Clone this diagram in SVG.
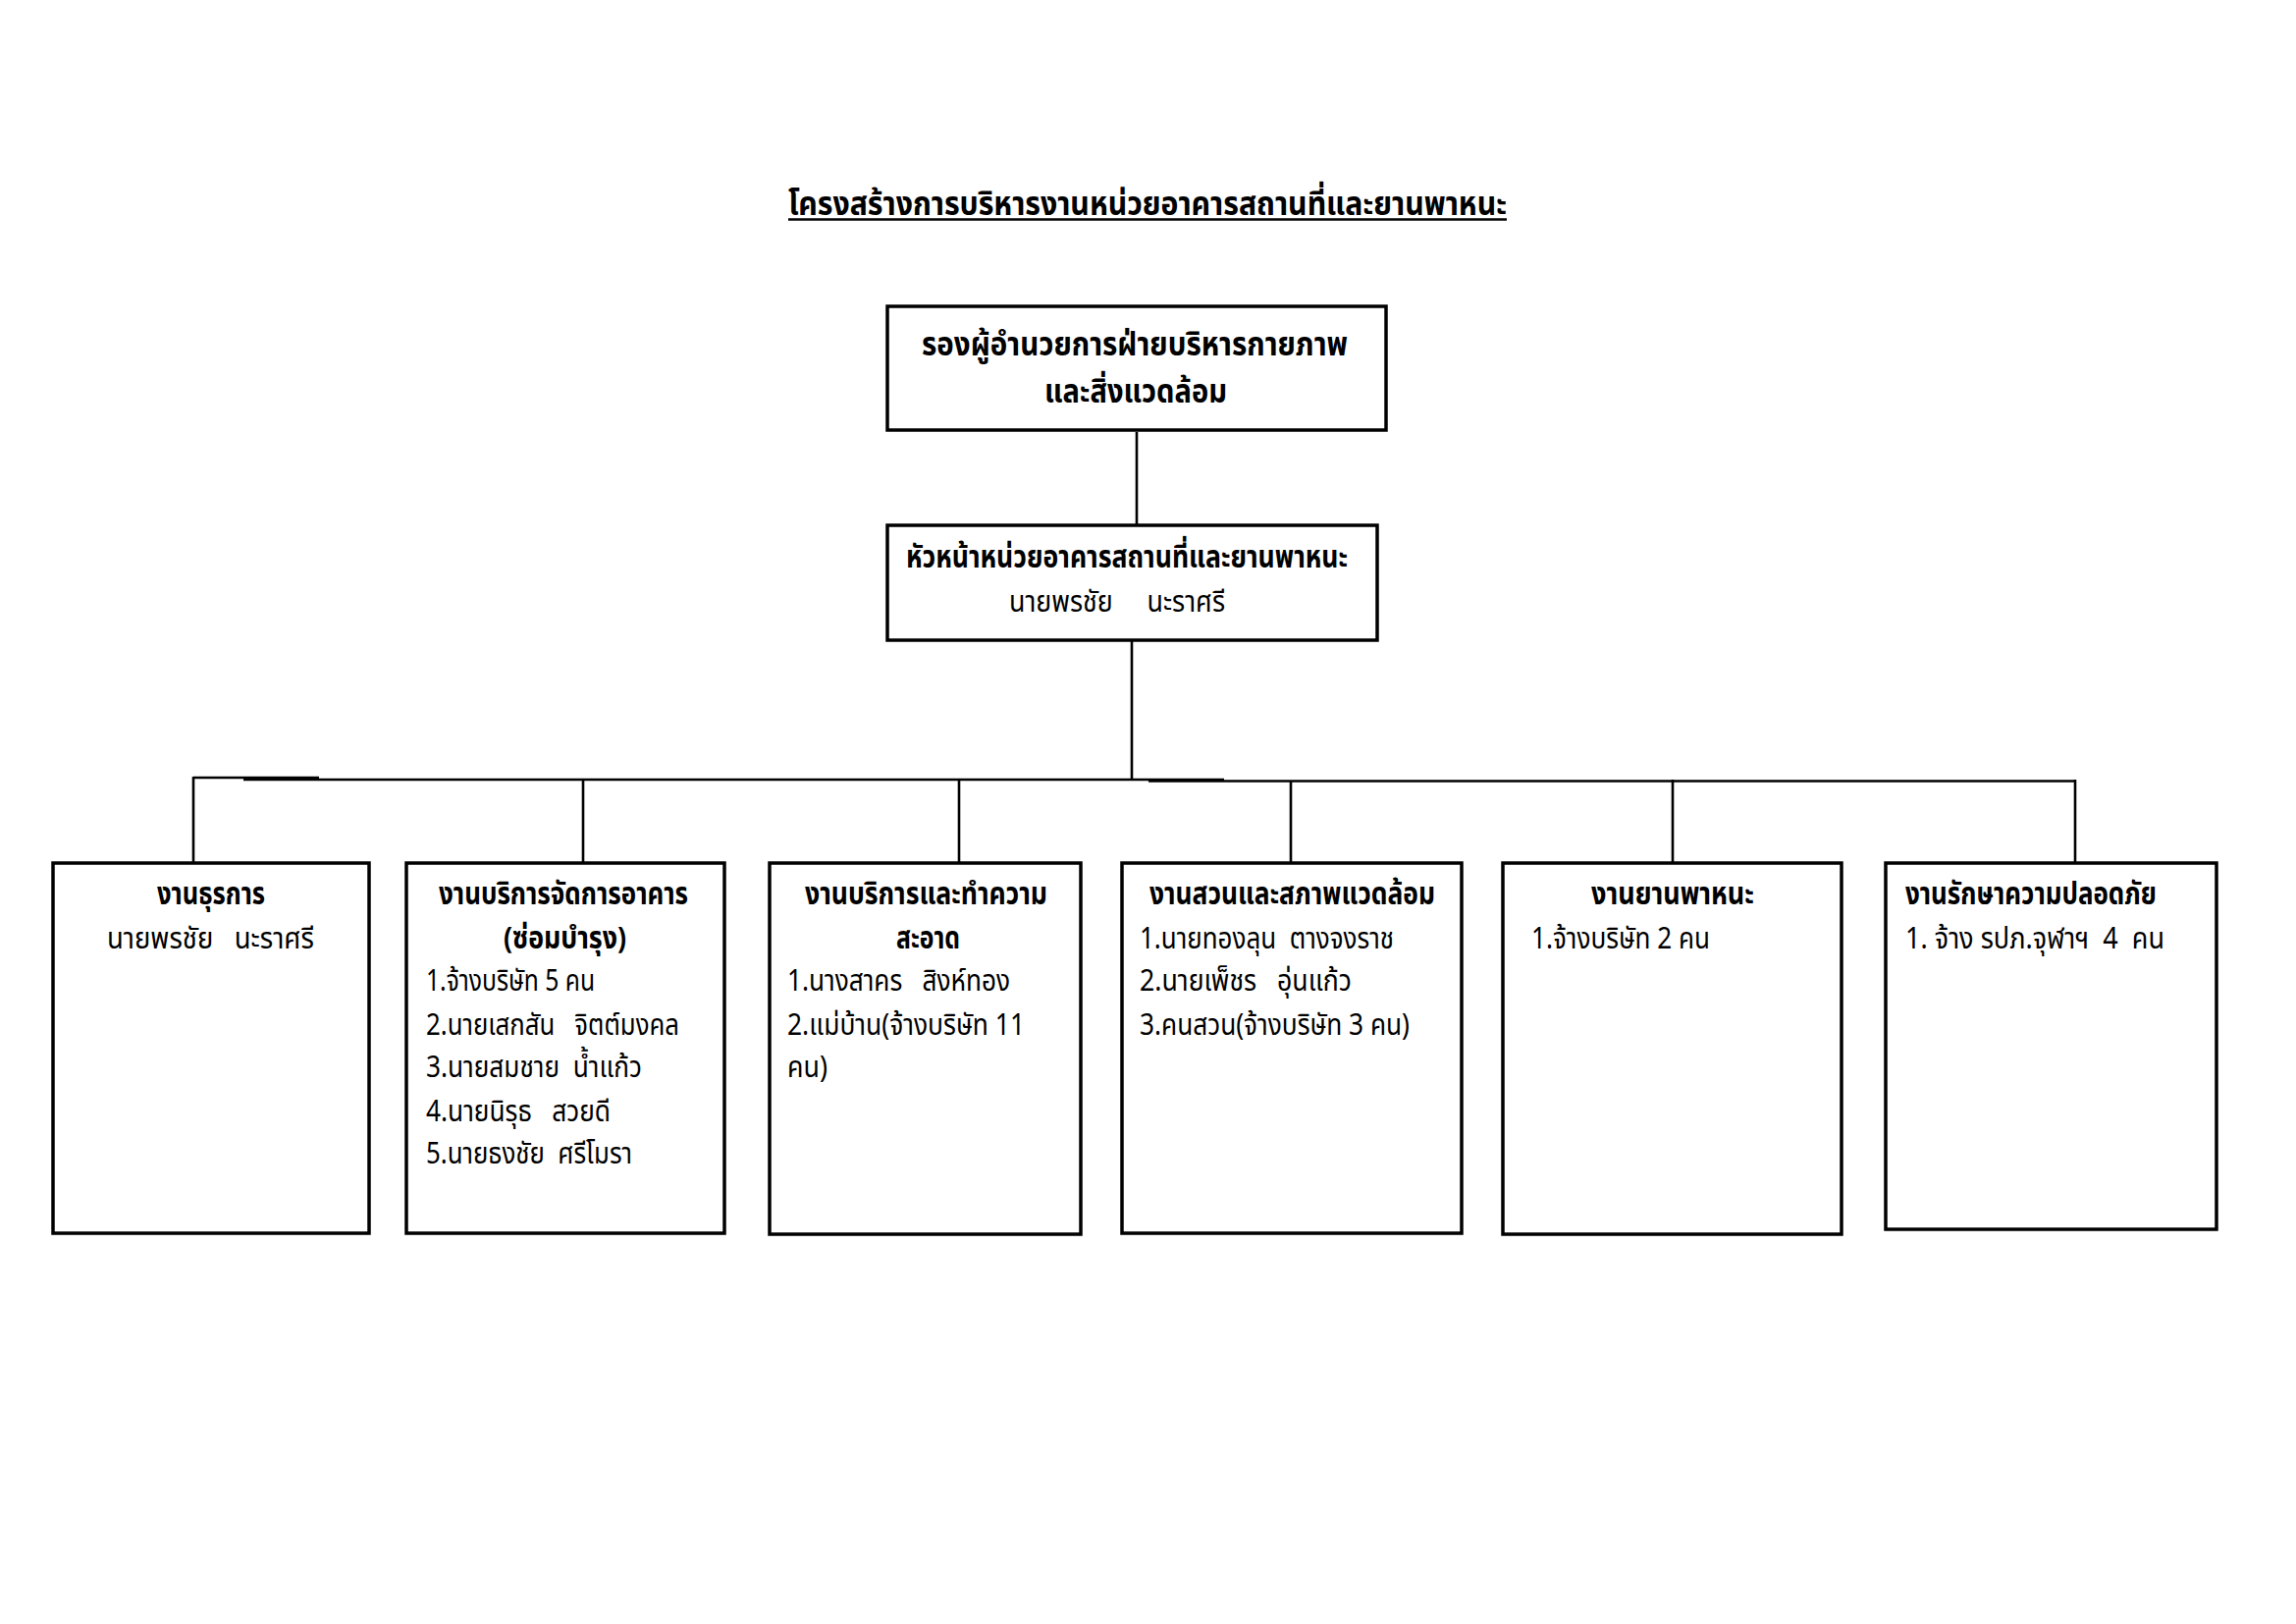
<svg xmlns="http://www.w3.org/2000/svg" width="2339" height="1654" viewBox="0 0 2339 1654">
<style>
.bg{fill:#fff}
.box{fill:#fff;stroke:#000;stroke-width:3.5}
.con{stroke:#000;stroke-width:2.6;fill:none}
text{font-family:"Noto Sans Thai","Noto Sans",sans-serif;fill:#000;white-space:pre}
.b{font-weight:bold;font-size:31px}
.r{font-weight:normal;font-size:31px}
.t{font-weight:bold;font-size:33px}
.h{font-weight:bold;font-size:33px}
</style>
<rect class="bg" x="0" y="0" width="2339" height="1654"/>
<g id="title">
<text class="t" x="803" y="219" textLength="732" lengthAdjust="spacingAndGlyphs">โครงสร้างการบริหารงานหน่วยอาคารสถานที่และยานพาหนะ</text>
<line x1="803" y1="223.5" x2="1535" y2="223.5" stroke="#000" stroke-width="2.5"/>
</g>
<g id="connectors">
<line class="con" x1="1158" y1="440" x2="1158" y2="534"/>
<line class="con" x1="1153" y1="653" x2="1153" y2="794"/>
<line class="con" x1="197" y1="792" x2="325" y2="792"/>
<line class="con" x1="248" y1="794" x2="1247" y2="794"/>
<line class="con" x1="1170" y1="795.5" x2="2114" y2="795.5"/>
<line class="con" x1="197" y1="791" x2="197" y2="878"/>
<line class="con" x1="594" y1="794" x2="594" y2="878"/>
<line class="con" x1="977" y1="794" x2="977" y2="878"/>
<line class="con" x1="1315" y1="795" x2="1315" y2="881"/>
<line class="con" x1="1704" y1="794" x2="1704" y2="878"/>
<line class="con" x1="2114" y1="794" x2="2114" y2="878"/>
</g>
<g id="n_deputy">
<rect class="box" x="904" y="312" width="508" height="126"/>
<text class="h" x="939" y="362" textLength="434" lengthAdjust="spacingAndGlyphs">รองผู้อำนวยการฝ่ายบริหารกายภาพ</text>
<text class="h" x="1064" y="410" textLength="186" lengthAdjust="spacingAndGlyphs">และสิ่งแวดล้อม</text>
</g>
<g id="n_head">
<rect class="box" x="904" y="535" width="499" height="117"/>
<text class="b" x="923" y="578" textLength="450" lengthAdjust="spacingAndGlyphs">หัวหน้าหน่วยอาคารสถานที่และยานพาหนะ</text>
<text class="r" x="1028" y="623" textLength="220" lengthAdjust="spacingAndGlyphs">นายพรชัย     นะราศรี</text>
</g>
<g id="n_admin">
<rect class="box" x="54" y="879" width="322" height="377"/>
<text class="b" x="160" y="921" textLength="110" lengthAdjust="spacingAndGlyphs">งานธุรการ</text>
<text class="r" x="109" y="966" textLength="211" lengthAdjust="spacingAndGlyphs">นายพรชัย   นะราศรี</text>
</g>
<g id="n_building">
<rect class="box" x="414" y="879" width="324" height="377"/>
<text class="b" x="447" y="921" textLength="254" lengthAdjust="spacingAndGlyphs">งานบริการจัดการอาคาร</text>
<text class="b" x="513" y="966" textLength="125" lengthAdjust="spacingAndGlyphs">(ซ่อมบำรุง)</text>
<text class="r" x="434" y="1009" textLength="172" lengthAdjust="spacingAndGlyphs">1.จ้างบริษัท 5 คน</text>
<text class="r" x="434" y="1054" textLength="258" lengthAdjust="spacingAndGlyphs">2.นายเสกสัน   จิตต์มงคล</text>
<text class="r" x="434" y="1097" textLength="220" lengthAdjust="spacingAndGlyphs">3.นายสมชาย  น้ำแก้ว</text>
<text class="r" x="434" y="1142" textLength="188" lengthAdjust="spacingAndGlyphs">4.นายนิรุธ   สวยดี</text>
<text class="r" x="434" y="1185" textLength="210" lengthAdjust="spacingAndGlyphs">5.นายธงชัย  ศรีโมรา</text>
</g>
<g id="n_cleaning">
<rect class="box" x="784" y="879" width="317" height="378"/>
<text class="b" x="820" y="921" textLength="247" lengthAdjust="spacingAndGlyphs">งานบริการและทำความ</text>
<text class="b" x="913" y="966" textLength="65" lengthAdjust="spacingAndGlyphs">สะอาด</text>
<text class="r" x="802" y="1009" textLength="227" lengthAdjust="spacingAndGlyphs">1.นางสาคร   สิงห์ทอง</text>
<text class="r" x="802" y="1054" textLength="242" lengthAdjust="spacingAndGlyphs">2.แม่บ้าน(จ้างบริษัท 11</text>
<text class="r" x="802" y="1097" textLength="41" lengthAdjust="spacingAndGlyphs">คน)</text>
</g>
<g id="n_garden">
<rect class="box" x="1143" y="879" width="346" height="377"/>
<text class="b" x="1171" y="921" textLength="291" lengthAdjust="spacingAndGlyphs">งานสวนและสภาพแวดล้อม</text>
<text class="r" x="1161" y="966" textLength="259" lengthAdjust="spacingAndGlyphs">1.นายทองลุน  ตางจงราช</text>
<text class="r" x="1161" y="1009" textLength="216" lengthAdjust="spacingAndGlyphs">2.นายเพ็ชร   อุ่นแก้ว</text>
<text class="r" x="1161" y="1054" textLength="275" lengthAdjust="spacingAndGlyphs">3.คนสวน(จ้างบริษัท 3 คน)</text>
</g>
<g id="n_vehicle">
<rect class="box" x="1531" y="879" width="345" height="378"/>
<text class="b" x="1621" y="921" textLength="166" lengthAdjust="spacingAndGlyphs">งานยานพาหนะ</text>
<text class="r" x="1560" y="966" textLength="182" lengthAdjust="spacingAndGlyphs">1.จ้างบริษัท 2 คน</text>
</g>
<g id="n_security">
<rect class="box" x="1921" y="879" width="337" height="373"/>
<text class="b" x="1941" y="921" textLength="256" lengthAdjust="spacingAndGlyphs">งานรักษาความปลอดภัย</text>
<text class="r" x="1941" y="966" textLength="264" lengthAdjust="spacingAndGlyphs">1. จ้าง รปภ.จุฬาฯ  4  คน</text>
</g>
</svg>
